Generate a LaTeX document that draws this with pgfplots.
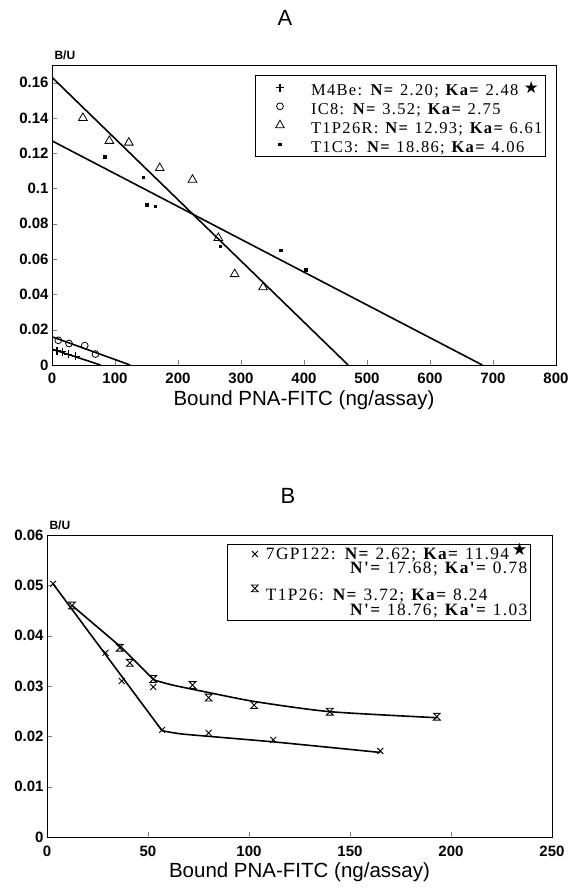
\documentclass[border=0pt]{standalone}
\usepackage{pgfplots}
\pgfplotsset{compat=1.18}
\usepackage{calc}
\usepackage{fontspec}
\setmainfont{Liberation Serif}
\setsansfont{Liberation Sans}
\newfontfamily\dejavu{DejaVu Sans}
\newfontfamily\legfont{Liberation Serif}[LetterSpace=8]
\pgfdeclareplotmark{hourglass}{%
  \pgfpathmoveto{\pgfqpoint{-\pgfplotmarksize}{\pgfplotmarksize}}%
  \pgfpathlineto{\pgfqpoint{\pgfplotmarksize}{\pgfplotmarksize}}%
  \pgfpathlineto{\pgfqpoint{-\pgfplotmarksize}{-\pgfplotmarksize}}%
  \pgfpathlineto{\pgfqpoint{\pgfplotmarksize}{-\pgfplotmarksize}}%
  \pgfpathclose\pgfusepathqstroke}
\newcommand{\strs}{{\dejavu\char"2605}}
\newcommand{\N}{\textbf{N=}}
\newcommand{\Ka}{\textbf{Ka=}}
\newcommand{\Np}{\textbf{N'=}}
\newcommand{\Kap}{\textbf{Ka'=}}
\newcommand{\ent}[3]{\hspace{#1}\smash{#2}\rule{0pt}{#3}}
\pgfplotsset{
  common/.style={
    scale only axis,
    anchor=south west,
    axis line style={line width=0.8pt},
    tick align=inside,
    xtick pos=left, ytick pos=left,
    major tick length=5pt,
    scaled x ticks=false, scaled y ticks=false,
    /pgf/number format/assume math mode=true,
    ticklabel style={font=\sffamily\bfseries\fontsize{15}{17}\selectfont},
    xticklabel style={yshift=-5pt},
    xlabel style={font=\sffamily\fontsize{20.5}{23}\selectfont, yshift=0pt},
    ylabel style={font=\sffamily\bfseries\fontsize{12}{13}\selectfont, rotate=-90, at={(rel axis cs:0,1)}, anchor=south west, yshift=2pt, xshift=-1pt},
    title style={font=\sffamily\fontsize{22}{24}\selectfont},
    legend cell align=left,
    legend style={draw=black, line width=0.8pt, inner xsep=3pt, inner ysep=3pt, row sep=0pt, nodes={inner sep=0pt}},
  },
  legA/.style={legend image code/.code={\draw[opacity=0,line width=0.1pt] (0pt,0pt) -- (30pt,0pt); \draw[##1] plot coordinates {(22pt,0pt)};}},
  legB/.style={legend image code/.code={\draw[opacity=0,line width=0.1pt] (0pt,0pt) -- (30pt,0pt); \draw[##1] plot coordinates {(24pt,0pt)};}},
}
\begin{document}
\begin{tikzpicture}
\useasboundingbox (0,0) rectangle (571pt,890pt);
% ---------------- Panel A ----------------
\begin{axis}[common,
  at={(52pt,525pt)}, width=504pt, height=300pt,
  xmin=0, xmax=800, ymin=0, ymax=0.17,
  xtick={0,100,200,300,400,500,600,700,800},
  ytick={0,0.02,0.04,0.06,0.08,0.1,0.12,0.14,0.16},
  yticklabels={0,0.02,0.04,0.06,0.08,0.1,0.12,0.14,0.16},
  xlabel={Bound PNA-FITC (ng/assay)},
  ylabel={B/U},
  title={A}, title style={at={(0.462,1)}, yshift=30pt},
  legend style={at={(0.980,0.967)}, anchor=north east, font=\legfont\fontsize{16.5}{19}\selectfont},
]
\addplot[only marks, mark=+, mark size=4pt, line width=1.1pt, legA] coordinates {
(8,0.0080) (16,0.0074) (26,0.0062) (38,0.0050)};
\addlegendentry{\ent{23pt}{M4Be: \N\ 2.20; \Ka\ 2.48 \raisebox{2pt}{\strs}}{17pt}\hspace{11pt}}
\addplot[only marks, mark=o, mark size=3.4pt, line width=0.8pt, legA] coordinates {
(10,0.0140) (27,0.0122) (52,0.0110) (69,0.0062)};
\addlegendentry{\ent{23pt}{IC8: \N\ 3.52; \Ka\ 2.75}{17.5pt}\hspace{11pt}}
\addplot[only marks, mark=triangle, mark size=5pt, line width=0.8pt, legA] coordinates {
(49,0.140) (91,0.127) (122,0.126) (171,0.1116) (223,0.105) (264,0.072) (290,0.0515) (335,0.044)};
\addlegendentry{\ent{23pt}{T1P26R: \N\ 12.93; \Ka\ 6.61}{17.5pt}\hspace{11pt}}
\addplot[only marks, mark=square*, mark size=1.3pt, legA] coordinates {
(84,0.118) (145,0.1065) (150,0.091) (164,0.090) (267,0.0674) (363,0.065) (403,0.054)};
\addlegendentry{\ent{23pt}{T1C3: \N\ 18.86; \Ka\ 4.06}{17.5pt}\hspace{11pt}}
% fitted lines
\addplot[no marks, line width=1.6pt, forget plot] coordinates {(0,0.0090) (77,0)};
\addplot[no marks, line width=1.6pt, forget plot] coordinates {(0,0.0160) (124,0)};
\addplot[no marks, line width=1.6pt, forget plot] coordinates {(0,0.163) (470,0)};
\addplot[no marks, line width=1.6pt, forget plot] coordinates {(0,0.127) (683,0)};
\end{axis}
% ---------------- Panel B ----------------
\begin{axis}[common,
  at={(47pt,53pt)}, width=505pt, height=302pt,
  xmin=0, xmax=250, ymin=0, ymax=0.06,
  xtick={0,50,100,150,200,250},
  ytick={0,0.01,0.02,0.03,0.04,0.05,0.06},
  yticklabels={0,0.01,0.02,0.03,0.04,0.05,0.06},
  xlabel={Bound PNA-FITC (ng/assay)},
  ylabel={B/U},
  title={B}, title style={at={(0.477,1)}, yshift=22pt},
  legend style={at={(0.958,0.970)}, anchor=north east, font=\legfont\fontsize{17.3}{19}\selectfont},
]
\addplot[only marks, mark=x, mark size=4.2pt, line width=0.9pt, legB] coordinates {
(3,0.0503) (29,0.0366) (37,0.0310) (52.6,0.0298) (57,0.0213) (80,0.0207) (112,0.0193) (165,0.0171)};
\addlegendentry{\ent{5pt}{7GP122: \N\ 2.62; \Ka\ 11.94\,\raisebox{4pt}{\strs}}{11.7pt}}
\addlegendimage{empty legend}
\addlegendentry{\ent{5pt}{\makebox[\widthof{7GP122: \N\ 2.62; \Ka\ 11.94\,\strs}][r]{\Np\ 17.68; \Kap\ 0.78}}{12.6pt}}
\addplot[only marks, mark=hourglass, mark size=3.4pt, line width=0.9pt, legB] coordinates {
(12.4,0.0460) (36,0.0376) (41,0.0346) (52.6,0.0314) (72,0.0302) (80,0.0277) (102.5,0.0262) (140,0.0249) (193,0.0239)};
\addlegendentry{\ent{5pt}{T1P26: \N\ 3.72; \Ka\ 8.24}{25.7pt}}
\addlegendimage{empty legend}
\addlegendentry{\ent{5pt}{\makebox[\widthof{7GP122: \N\ 2.62; \Ka\ 11.94\,\strs}][r]{\Np\ 18.76; \Kap\ 1.03}}{13.7pt}}
\addplot[no marks, line width=1.6pt, forget plot] coordinates {
(3,0.0503) (57,0.0211)};
\addplot[no marks, line width=1.6pt, forget plot, smooth, tension=0.4] coordinates {
(57,0.0211) (66,0.0205) (80,0.0200) (112,0.0189) (140,0.0178) (165,0.0168)};
\addplot[no marks, line width=1.6pt, forget plot] coordinates {
(12.4,0.0460) (37,0.0376) (53,0.0312)};
\addplot[no marks, line width=1.6pt, forget plot, smooth, tension=0.4] coordinates {
(53,0.0312) (62,0.0302) (80,0.0287) (103,0.0269) (140,0.0249) (193,0.0237)};
\end{axis}
\end{tikzpicture}
\end{document}
